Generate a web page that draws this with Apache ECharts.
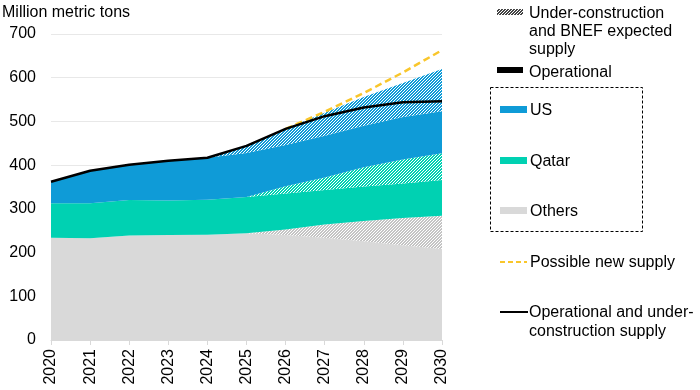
<!DOCTYPE html>
<html>
<head>
<meta charset="utf-8">
<script src="https://cdn.jsdelivr.net/npm/echarts@6/dist/echarts.min.js"></script>
<style>
html,body{margin:0;padding:0;background:#fff;}
#chart{width:700px;height:390px;}
</style>
</head>
<body>
<div id="chart"></div>
<script>
// ---- data (million metric tons) ----
var years = ['2020','2021','2022','2023','2024','2025','2026','2027','2028','2029','2030'];
var yTicks = [0,100,200,300,400,500,600,700];
// stacked layers, bottom to top
var othersOperational = [234,233,239,240,241,244,240,234,226,217,208];
var othersUnderConstruction = [0,0,0,0,0,0,13,30,46,62,76];
var qatarOperational = [79,80,81,79,80,83,82,79,79,79,82];
var qatarUnderConstruction = [0,0,0,0,0,0,17,29,44,55,61];
var usOperational = [49,74,81,91,96,101,94,95,95,97,96];
var usUnderConstruction = [0,0,0,0,0,16,37,53,66,78,97];
// lines
var operationalAndUnderConstruction = [362,387,401,410,417,444,483,512,532,544,546];
var possibleNewSupply = [null,null,null,null,null,null,483,522,565,612,663];

var C_US = '#0f9bd7', C_QA = '#00d1b2', C_OT = '#d9d9d9', C_OT_H = '#c4c4c4', C_Y = '#f9c62b';
var FONT = '"Liberation Sans", Arial, sans-serif';

function hatch(color) {
  var c = document.createElement('canvas');
  c.width = 3; c.height = 3;
  var g = c.getContext('2d');
  g.fillStyle = '#ffffff'; g.fillRect(0,0,3,3);
  g.fillStyle = color;
  for (var x = 0; x < 3; x++) for (var y = 0; y < 3; y++) {
    var k = (x + y) % 3;
    if (k === 0 || k === 1) g.fillRect(x, y, 1, 1);
  }
  return {image: c, repeat: 'repeat'};
}

function area(name, data, color) {
  return {
    name: name, type: 'line', stack: 'total', data: data,
    symbol: 'none', showSymbol: false, silent: true,
    lineStyle: {width: 0, opacity: 0},
    areaStyle: {color: color, opacity: 1},
    z: 2
  };
}

var chart = echarts.init(document.getElementById('chart'), null, {renderer: 'canvas'});

var txt = function (x, y, s) {
  return {type: 'text', left: x, top: y - 7, style: {text: s, font: '16px ' + FONT, fill: '#000', textVerticalAlign: 'top'}};
};

var option = {
  animation: false,
  backgroundColor: '#fff',
  textStyle: {fontFamily: FONT},
  grid: {left: 51, right: 258, top: 34, bottom: 50, containLabel: false},
  xAxis: {
    type: 'category', data: years, boundaryGap: false,
    axisLine: {show: true, lineStyle: {color: '#d9d9d9', width: 1}},
    axisTick: {show: true, length: 5, lineStyle: {color: '#d9d9d9'}},
    axisLabel: {rotate: 90, fontSize: 16, color: '#000', margin: 9, fontFamily: FONT}
  },
  yAxis: {
    type: 'value', min: yTicks[0], max: yTicks[yTicks.length - 1], interval: 100,
    axisLine: {show: false}, axisTick: {show: false},
    axisLabel: {fontSize: 16, color: '#000', margin: 15, fontFamily: FONT},
    splitLine: {show: true, lineStyle: {color: '#e8e8e8', width: 1}}
  },
  series: [
    area('Others', othersOperational, C_OT),
    area('Others under construction', othersUnderConstruction, hatch(C_OT_H)),
    area('Qatar', qatarOperational, C_QA),
    area('Qatar under construction', qatarUnderConstruction, hatch(C_QA)),
    area('US', usOperational, C_US),
    area('US under construction', usUnderConstruction, hatch(C_US)),
    {
      name: 'Possible new supply', type: 'line', data: possibleNewSupply,
      symbol: 'none', silent: true, z: 4,
      lineStyle: {color: C_Y, width: 2.5, type: [7, 4]}
    },
    {
      name: 'Operational and under-construction supply', type: 'line', data: operationalAndUnderConstruction,
      symbol: 'none', silent: true, z: 5,
      lineStyle: {color: '#000', width: 2.5}
    }
  ],
  graphic: [
    {type: 'text', left: 2, top: 5, style: {text: 'Million metric tons', font: '16px ' + FONT, fill: '#000'}},
    // legend
    {type: 'rect', shape: {x: 497, y: 9, width: 26, height: 6}, style: {fill: hatch('#444')}},
    txt(529, 13, 'Under-construction'),
    txt(529, 31, 'and BNEF expected'),
    txt(529, 49, 'supply'),
    {type: 'rect', shape: {x: 497, y: 67, width: 26, height: 6}, style: {fill: '#000'}},
    txt(529, 72, 'Operational'),
    {type: 'rect', shape: {x: 490.5, y: 87.5, width: 152, height: 144}, style: {fill: null, stroke: '#000', lineWidth: 1, lineDash: [3, 2]}},
    {type: 'rect', shape: {x: 500, y: 106, width: 27, height: 7}, style: {fill: C_US}},
    txt(530, 110, 'US'),
    {type: 'rect', shape: {x: 500, y: 157, width: 27, height: 7}, style: {fill: C_QA}},
    txt(530, 161, 'Qatar'),
    {type: 'rect', shape: {x: 500, y: 207, width: 27, height: 7}, style: {fill: C_OT}},
    txt(530, 211, 'Others'),
    {type: 'line', shape: {x1: 500, y1: 262, x2: 527, y2: 262}, style: {stroke: C_Y, lineWidth: 2, lineDash: [5, 3]}},
    txt(530, 262, 'Possible new supply'),
    {type: 'line', shape: {x1: 500, y1: 312, x2: 528, y2: 312}, style: {stroke: '#000', lineWidth: 2}},
    txt(529, 312, 'Operational and under-'),
    txt(529, 331, 'construction supply')
  ]
};
chart.setOption(option);
</script>
</body>
</html>
